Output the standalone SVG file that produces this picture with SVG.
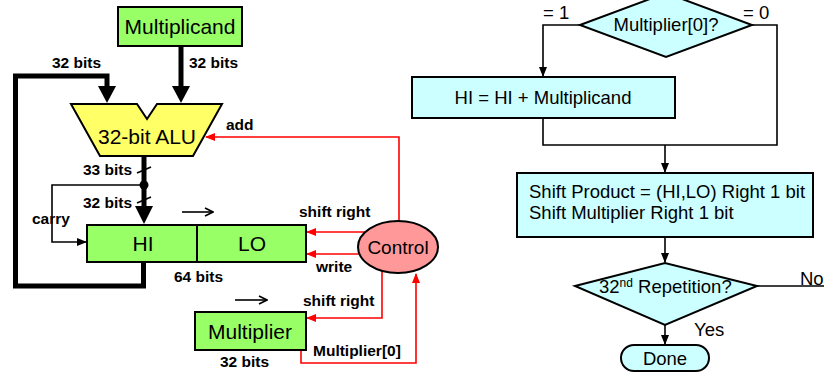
<svg xmlns="http://www.w3.org/2000/svg" width="824" height="372" viewBox="0 0 824 372">
  <defs>
    <style>
      .lbl { font-family: "Liberation Sans", Arial, sans-serif; font-weight: bold; font-size: 15.5px; fill: #000; }
      .big { font-family: "Liberation Sans", Arial, sans-serif; font-size: 21px; fill: #000; }
      .flow { font-family: "Liberation Sans", Arial, sans-serif; font-size: 18.5px; fill: #000; }
      .reg { fill: #99FF66; stroke: #000; stroke-width: 2; }
      .step { fill: #CCFFFF; stroke: #000; stroke-width: 2; }
      .thick { fill: none; stroke: #000; stroke-width: 5; stroke-linejoin: miter; }
      .ctl { fill: none; stroke: #FF0000; stroke-width: 1.6; }
      .thin { fill: none; stroke: #000; stroke-width: 1.6; }
      .head { fill: #000; }
    </style>
    <marker id="redHead" markerWidth="10" markerHeight="8" refX="9" refY="4" orient="auto" markerUnits="userSpaceOnUse">
      <path d="M0,0 L10,4 L0,8 Z" fill="#FF0000"/>
    </marker>
    <marker id="blkHead" markerWidth="10" markerHeight="8" refX="9" refY="4" orient="auto" markerUnits="userSpaceOnUse">
      <path d="M0,0 L10,4 L0,8 Z" fill="#000"/>
    </marker>
    <marker id="openHead" markerWidth="10" markerHeight="10" refX="9" refY="5" orient="auto" markerUnits="userSpaceOnUse">
      <path d="M1,1 L9,5 L1,9" fill="none" stroke="#000" stroke-width="1.6"/>
    </marker>
  </defs>

  <!-- datapath wiring -->
  <g id="connectors">
    <!-- wide buses with their heads -->
    <path class="thick" d="M181,46 V88"/>
    <path class="head" d="M172,86 H190 L181,103 Z"/>
    <path class="thick" d="M143.5,262 V286 H15.5 V76 H107 V88"/>
    <path class="head" d="M98,86 H116 L107,103 Z"/>
    <path class="thick" d="M144,156 V208"/>
    <path class="head" d="M135,206 H153 L144,224 Z"/>
    <circle cx="144" cy="185" r="4.5" fill="#000"/>
    <!-- bus width ticks -->
    <path class="thin" d="M137,173 L151,167"/>
    <path class="thin" d="M137,203 L151,197"/>
    <!-- carry -->
    <path class="thin" d="M144,185 H52 V242 H86" marker-end="url(#blkHead)"/>
    <!-- shift direction hints -->
    <path class="thin" d="M182,212 H213" marker-end="url(#openHead)"/>
    <path class="thin" d="M235,300 H267" marker-end="url(#openHead)"/>
    <!-- control lines -->
    <path class="ctl" d="M399,221 V137 H206" marker-end="url(#redHead)"/>
    <path class="ctl" d="M366,232 H307" marker-end="url(#redHead)"/>
    <path class="ctl" d="M360,254 H307" marker-end="url(#redHead)"/>
    <path class="ctl" d="M382,271 V318 H307" marker-end="url(#redHead)"/>
    <path class="ctl" d="M301,350 V363 H416 V274" marker-end="url(#redHead)"/>

    <!-- flowchart -->
    <path class="thin" d="M580,25 H543 V76" marker-end="url(#blkHead)"/>
    <path class="thin" d="M752,25 H777 V145 H543 V118"/>
    <path class="thin" d="M665,145 V172" marker-end="url(#blkHead)"/>
    <path class="thin" d="M665,237 V262" marker-end="url(#blkHead)"/>
    <path class="thin" d="M757,286 H824"/>
    <path class="thin" d="M665,325 V344" marker-end="url(#blkHead)"/>
  </g>

  <!-- bus labels -->
  <g id="bus-labels">
    <text class="lbl" x="52" y="68">32 bits</text>
    <text class="lbl" x="189" y="68">32 bits</text>
    <text class="lbl" x="226" y="130">add</text>
    <text class="lbl" x="83" y="175">33 bits</text>
    <text class="lbl" x="83" y="208">32 bits</text>
    <text class="lbl" x="32" y="224">carry</text>
    <text class="lbl" x="299" y="217">shift right</text>
    <text class="lbl" x="316" y="272">write</text>
    <text class="lbl" x="174" y="282">64 bits</text>
    <text class="lbl" x="303" y="306">shift right</text>
    <text class="lbl" x="313" y="356">Multiplier[0]</text>
    <text class="lbl" x="220" y="367">32 bits</text>
  </g>

  <g id="multiplicand">
    <rect class="reg" x="118" y="7" width="124" height="39"/>
    <text class="big" x="180" y="34" text-anchor="middle">Multiplicand</text>
  </g>

  <g id="alu">
    <path d="M71,104 H137 L147,119 L157,104 H222 L193,156 H100 Z" fill="#FFFF66" stroke="#000" stroke-width="2"/>
    <text class="big" x="147" y="144" text-anchor="middle">32-bit ALU</text>
  </g>

  <g id="product">
    <rect class="reg" x="87" y="225" width="219" height="37"/>
    <line x1="197" y1="225" x2="197" y2="262" stroke="#000" stroke-width="2"/>
    <text class="big" x="143" y="251" text-anchor="middle">HI</text>
    <text class="big" x="252" y="251" text-anchor="middle">LO</text>
  </g>

  <g id="multiplier">
    <rect class="reg" x="195" y="312" width="111" height="38"/>
    <text class="big" x="250" y="339" text-anchor="middle">Multiplier</text>
  </g>

  <g id="control">
    <ellipse cx="398" cy="247" rx="40" ry="26" fill="#FF9999" stroke="#000" stroke-width="2"/>
    <text x="398" y="254" text-anchor="middle" font-family="Liberation Sans, Arial, sans-serif" font-size="19">Control</text>
  </g>

  <!-- algorithm flowchart -->
  <g id="test-bit">
    <path class="step" d="M580,25 L666,-7 L752,25 L666,57 Z"/>
    <text class="flow" x="666" y="31" text-anchor="middle">Multiplier[0]?</text>
    <text class="flow" x="543" y="19">= 1</text>
    <text class="flow" x="743" y="19">= 0</text>
  </g>

  <g id="add-step">
    <rect class="step" x="412" y="77" width="263" height="41"/>
    <text class="flow" x="543" y="104" text-anchor="middle">HI = HI + Multiplicand</text>
  </g>

  <g id="shift-step">
    <rect class="step" x="517" y="173" width="296" height="64"/>
    <text class="flow" x="529" y="198">Shift Product = (HI,LO) Right 1 bit</text>
    <text class="flow" x="529" y="219">Shift Multiplier Right 1 bit</text>
  </g>

  <g id="repeat-test">
    <path class="step" d="M575,286 L665,263 L757,286 L665,325 Z"/>
    <text class="flow" x="599" y="293">32<tspan font-size="12" dy="-6">nd</tspan><tspan dy="6"> Repetition?</tspan></text>
    <text class="flow" x="800" y="285">No</text>
    <text class="flow" x="694" y="336">Yes</text>
  </g>

  <g id="done">
    <rect class="step" x="621" y="345" width="88" height="26" rx="13"/>
    <text class="flow" x="665" y="365" text-anchor="middle">Done</text>
  </g>
</svg>
